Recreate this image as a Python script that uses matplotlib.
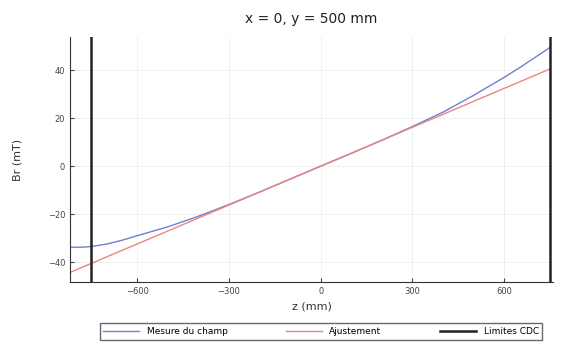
import matplotlib.pyplot as plt

# mesure du champ Br (mT) le long de z (mm)
z_mes = [-818, -780, -750, -700, -650, -600, -500, -400, -300, -200, -100,
         0, 100, 200, 300, 400, 500, 600, 650, 700, 750]
br_mes = [-33.8, -33.8, -33.5, -32.5, -30.9, -29.0, -25.3, -20.9, -16.0, -10.8, -5.4,
          0.0, 5.3, 10.8, 16.5, 22.5, 29.5, 37.0, 41.0, 45.2, 49.5]

# ajustement lineaire
z_fit = [-818, 750]
br_fit = [-44.2, 40.5]

limites = [-750, 750]
xticks = [-600, -300, 0, 300, 600]
yticks = [-40, -20, 0, 20, 40]

fig = plt.figure(figsize=(5.65, 3.46), dpi=100)
ax = fig.add_axes([0.124, 0.185, 0.855, 0.708])

ax.plot(z_mes, br_mes, color='#6f80d6', lw=1.0, label='Mesure du champ')
ax.plot(z_fit, br_fit, color='#e8877c', lw=1.0, label='Ajustement')
for i, zl in enumerate(limites):
    ax.axvline(zl, color='#222222', lw=1.8, label='Limites CDC' if i == 0 else None)

ax.set_xlim(-820, 760)
ax.set_ylim(-48.3, 53.8)
ax.set_xticks(xticks)
ax.set_yticks(yticks)
ax.set_xticklabels(['\u2212600', '\u2212300', '0', '300', '600'])
ax.set_yticklabels(['\u221240', '\u221220', '0', '20', '40'])
ax.tick_params(labelsize=6, colors='#444444', length=3, direction='in')
ax.grid(True, color='#eeeeee', lw=0.6)
for s in ['top', 'right']:
    ax.spines[s].set_visible(False)
for s in ['left', 'bottom']:
    ax.spines[s].set_color('#333333')
    ax.spines[s].set_linewidth(0.8)

ax.set_xlabel('z (mm)', fontsize=8, color='#333333', labelpad=4)
ax.set_ylabel('Br (mT)', fontsize=8, color='#333333', labelpad=18)
ax.set_title('x = 0, y = 500 mm', fontsize=10, color='#222222', pad=10)

fig.legend(loc='center', bbox_to_anchor=(0.568, 0.042), ncol=3, fontsize=6.5,
           frameon=True, fancybox=False, edgecolor='#444444', handlelength=4,
           columnspacing=6.5, borderpad=0.4)

fig.savefig('out.png', dpi=100)
